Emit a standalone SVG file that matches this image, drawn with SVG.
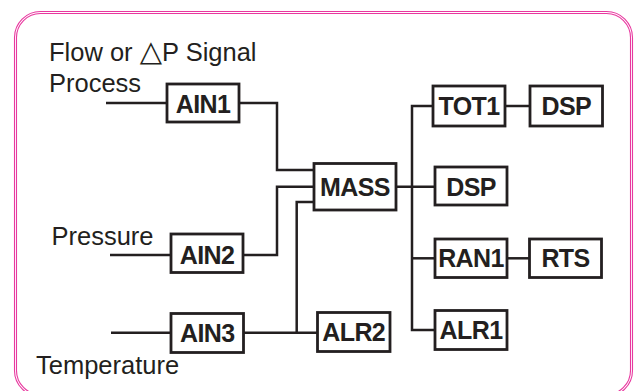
<svg xmlns="http://www.w3.org/2000/svg" width="635" height="391" viewBox="0 0 635 391">
<style>
.frame{fill:none;stroke:#e8389f;stroke-width:1.1}
.box{fill:#fff;stroke:#231f20;stroke-width:2.8}
.bl{font-family:"Liberation Sans",Arial,sans-serif;font-weight:bold;font-size:25px;letter-spacing:-0.6px;fill:#231f20;text-anchor:middle}
.lbl{font-family:"Liberation Sans",Arial,"DejaVu Sans",sans-serif;font-size:25.5px;fill:#231f20}
.ln{fill:none;stroke:#231f20;stroke-width:2.5}
</style>
<rect x="0" y="0" width="635" height="391" fill="#fff"/>
<rect class="frame" x="14.5" y="11.5" width="618" height="385" rx="26"/>
<rect class="frame" x="16.5" y="13.5" width="614" height="381" rx="24"/>
<g id="labels">
<text class="lbl" x="49" y="61">Flow or <tspan font-family="DejaVu Sans,sans-serif" font-size="29">△</tspan>P Signal</text>
<text class="lbl" x="49" y="91.5">Process</text>
<text class="lbl" x="51.5" y="245">Pressure</text>
<text class="lbl" x="36" y="374">Temperature</text>
</g>
<g id="connectors">
<path class="ln" d="M106 103H167"/>
<path class="ln" d="M239 103H277V170H314"/>
<path class="ln" d="M110 255H171"/>
<path class="ln" d="M243 255H277V186.7H314"/>
<path class="ln" d="M111 332.7H171"/>
<path class="ln" d="M243.7 332.7H317"/>
<path class="ln" d="M296.7 332.7V202H314"/>
<path class="ln" d="M396 186.7H435"/>
<path class="ln" d="M433 106H412V330H435"/>
<path class="ln" d="M412 258.3H435"/>
<path class="ln" d="M505 106H530"/>
<path class="ln" d="M507 258.3H529"/>
</g>
<g id="AIN1"><rect class="box" x="167" y="84" width="72" height="38"/><text class="bl" x="203" y="112.5">AIN1</text></g>
<g id="AIN2"><rect class="box" x="171" y="234" width="72" height="38.5"/><text class="bl" x="207" y="263.5">AIN2</text></g>
<g id="AIN3"><rect class="box" x="171" y="313.5" width="72.5" height="39"/><text class="bl" x="207.3" y="342">AIN3</text></g>
<g id="MASS"><rect class="box" x="314" y="163.5" width="82" height="46.5"/><text class="bl" x="355" y="196">MASS</text></g>
<g id="ALR2"><rect class="box" x="317.5" y="312.5" width="72.5" height="39"/><text class="bl" x="353.7" y="341">ALR2</text></g>
<g id="TOT1"><rect class="box" x="433" y="86" width="72" height="40"/><text class="bl" x="469" y="115">TOT1</text></g>
<g id="DSP1"><rect class="box" x="530" y="86" width="72.5" height="40"/><text class="bl" x="566.3" y="115">DSP</text></g>
<g id="DSP2"><rect class="box" x="435" y="167" width="72" height="38"/><text class="bl" x="471" y="195.5">DSP</text></g>
<g id="RAN1"><rect class="box" x="435" y="239" width="72" height="38.5"/><text class="bl" x="471" y="267">RAN1</text></g>
<g id="RTS"><rect class="box" x="529.5" y="239" width="72" height="38.5"/><text class="bl" x="565.5" y="267">RTS</text></g>
<g id="ALR1"><rect class="box" x="435" y="310.5" width="72" height="39"/><text class="bl" x="471" y="339">ALR1</text></g>
</svg>
